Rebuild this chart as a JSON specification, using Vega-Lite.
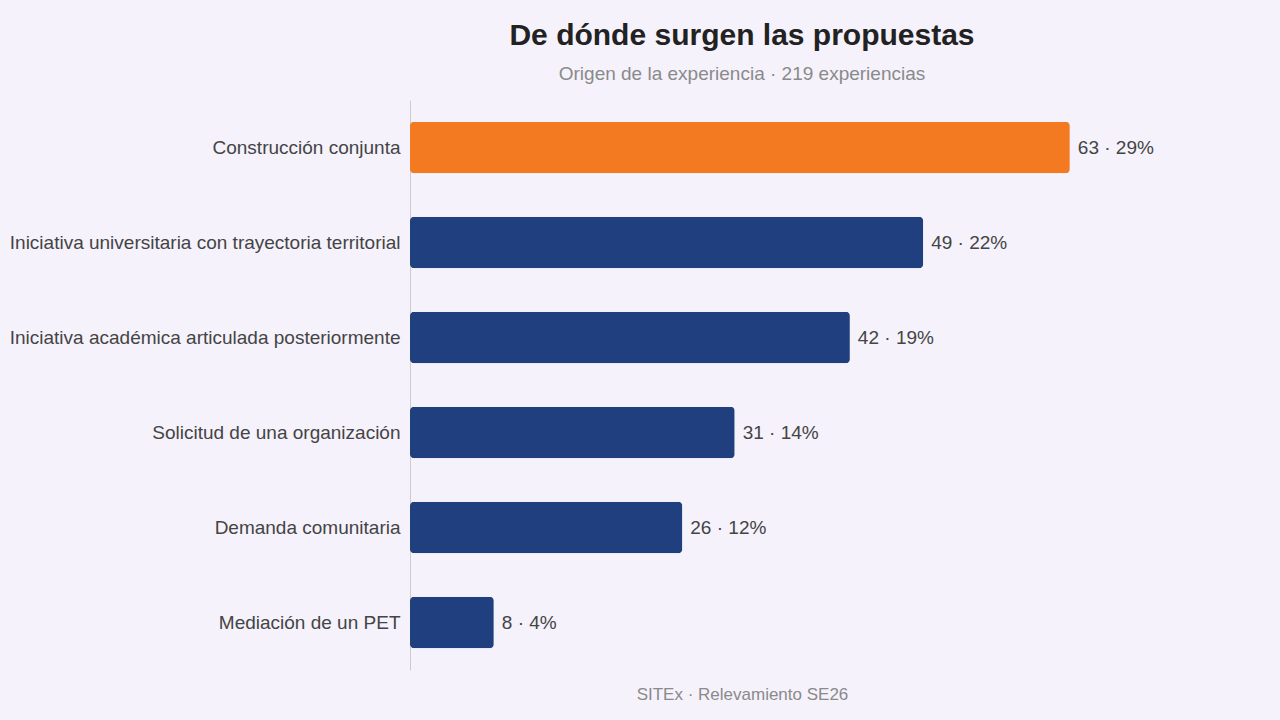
{
"$schema":"https://vega.github.io/schema/vega-lite/v6.json",
"width":664,"height":570,
"autosize":{"type":"none"},
"padding":{"left":410,"top":100,"right":206,"bottom":50},
"background":"#f5f2fc",
"config":{"font":"Liberation Sans","view":{"stroke":null}},
"title":{"text":"De dónde surgen las propuestas","subtitle":"Origen de la experiencia · 219 experiencias","anchor":"middle","frame":"group","fontSize":30,"fontWeight":"bold","color":"#222222","subtitleFontSize":19,"subtitleColor":"#8a8a8a","subtitlePadding":14,"offset":16},
"data":{"values":[
{"cat":"Construcción conjunta","n":63,"pct":"29%","hl":true},
{"cat":"Iniciativa universitaria con trayectoria territorial","n":49,"pct":"22%","hl":false},
{"cat":"Iniciativa académica articulada posteriormente","n":42,"pct":"19%","hl":false},
{"cat":"Solicitud de una organización","n":31,"pct":"14%","hl":false},
{"cat":"Demanda comunitaria","n":26,"pct":"12%","hl":false},
{"cat":"Mediación de un PET","n":8,"pct":"4%","hl":false}
]},
"encoding":{
"y":{"field":"cat","type":"nominal","sort":null,"scale":{"paddingInner":0.46,"paddingOuter":0.23},"axis":{"title":null,"ticks":false,"labelFontSize":19,"labelColor":"#444444","labelPadding":10,"domainColor":"#cccccc","labelLimit":420}},
"x":{"field":"n","type":"quantitative","scale":{"domain":[0,63.4],"nice":false},"axis":{"labels":false,"ticks":false,"domain":false,"grid":false,"title":"SITEx · Relevamiento SE26","titleFontSize":17,"titleFontWeight":"normal","titleColor":"#8a8a8a","titlePadding":16}}
},
"layer":[
{"mark":{"type":"bar","cornerRadius":4},"encoding":{"color":{"field":"hl","type":"nominal","scale":{"domain":[true,false],"range":["#f47a22","#1f3f7f"]},"legend":null}}},
{"transform":[{"calculate":"datum.n + '  ·  ' + datum.pct","as":"lab"}],"mark":{"type":"text","align":"left","dx":8,"fontSize":19,"color":"#444444","clip":false},"encoding":{"text":{"field":"lab"}}}
]
}
